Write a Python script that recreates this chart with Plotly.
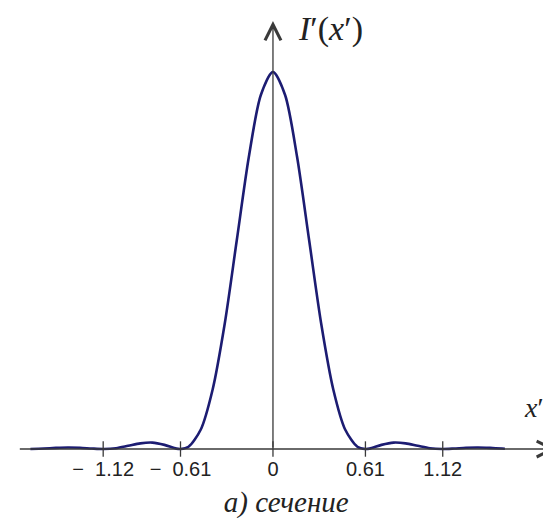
import plotly.graph_objects as go

# Cross-section of the intensity distribution
x_right = [0.000, 0.080, 0.159, 0.239, 0.318, 0.398, 0.477, 0.557, 0.610, 0.637,
           0.716, 0.796, 0.875, 0.955, 1.035, 1.117, 1.194, 1.273, 1.353, 1.432, 1.512, 1.530]
i_right = [1.000, 0.939, 0.775, 0.553, 0.333, 0.158, 0.051, 0.006, 0.000, 0.001,
           0.011, 0.017, 0.015, 0.0085, 0.0022, 0.000, 0.0013, 0.0034, 0.0041, 0.0030, 0.0012, 0.0009]
x_left = [-1.600, -1.512, -1.432, -1.353, -1.273, -1.194, -1.117, -1.035, -0.955, -0.875,
          -0.796, -0.716, -0.637, -0.610, -0.557, -0.477, -0.398, -0.318, -0.239, -0.159, -0.080]
i_left = [0.0000, 0.0012, 0.0030, 0.0041, 0.0034, 0.0013, 0.000, 0.0022, 0.0085, 0.015,
          0.017, 0.011, 0.001, 0.000, 0.006, 0.051, 0.158, 0.333, 0.553, 0.775, 0.939]

tick_vals = [-1.12, -0.61, 0, 0.61, 1.12]
tick_labels = ["\u2212\u00a0\u00a01.12", "\u2212\u00a0\u00a00.61", "0", "0.61", "1.12"]

xs = x_left + x_right
ys = i_left + i_right

AX = "#3a3a3a"
fig = go.Figure()
fig.add_trace(go.Scatter(x=xs, y=ys, mode="lines",
                         line=dict(color="#1c1c72", width=2.6, shape="spline", smoothing=0.8),
                         hoverinfo="skip", showlegend=False))
fig.add_trace(go.Scatter(x=tick_vals, y=[0] * len(tick_vals), mode="markers",
                         marker=dict(symbol="line-ns", size=11, line=dict(color=AX, width=1.3)),
                         hoverinfo="skip", showlegend=False))

annotations = [
    dict(x=1.867, y=0, ax=-1.68, ay=0, xref="x", yref="y", axref="x", ayref="y",
         text="", showarrow=True, arrowhead=5, arrowsize=2.4, arrowwidth=1.3, arrowcolor=AX),
    dict(x=0, y=1.135, ax=0, ay=0, xref="x", yref="y", axref="x", ayref="y",
         text="", showarrow=True, arrowhead=5, arrowsize=2.4, arrowwidth=1.3, arrowcolor=AX),
    dict(x=0.15, y=1.115, xref="x", yref="y", xanchor="left", yanchor="middle",
         text="<i>I</i>\u2032(<i>x</i>\u2032)", showarrow=False,
         font=dict(family="Liberation Serif", size=34, color="#222")),
    dict(x=1.72, y=0.11, xref="x", yref="y", xanchor="center", yanchor="middle",
         text="<i>x</i>\u2032", showarrow=False,
         font=dict(family="Liberation Serif", size=28, color="#222")),
]

fig.update_layout(
    width=551, height=520,
    margin=dict(l=0, r=0, t=0, b=0),
    paper_bgcolor="white", plot_bgcolor="white",
    showlegend=False,
    title=dict(text="<i>а) сечение</i>", x=0.505, y=0.05, xanchor="center", yanchor="middle",
               font=dict(family="Liberation Serif", size=29, color="#222")),
    xaxis=dict(range=[-1.748, 1.887], domain=[0, 1], showgrid=False, zeroline=False,
               showline=False, tickvals=tick_vals, ticktext=tick_labels,
               ticks="outside", ticklen=2, tickcolor="rgba(0,0,0,0)",
               anchor="free", position=0.1519,
               tickfont=dict(family="Liberation Sans", size=20, color="#222"), fixedrange=True),
    yaxis=dict(range=[-0.2095, 1.1698], domain=[0, 1], visible=False, fixedrange=True),
    annotations=annotations,
)

fig.write_html("out.html")
